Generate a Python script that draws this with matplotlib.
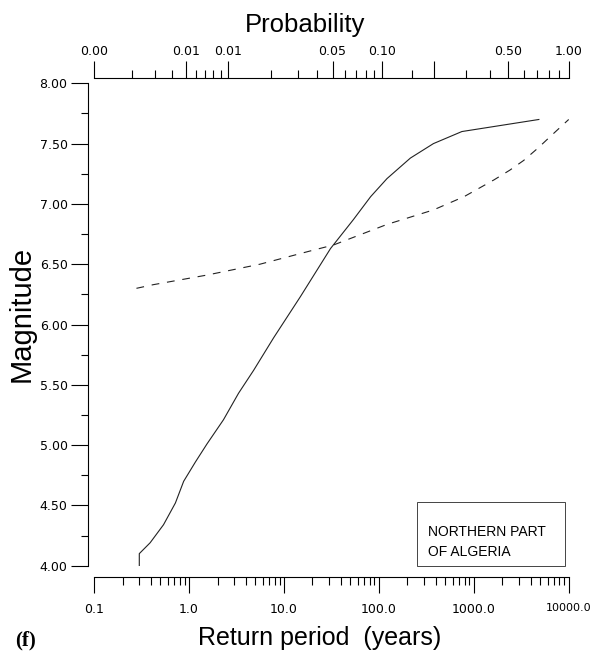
import matplotlib
matplotlib.use("Agg")
import matplotlib.pyplot as plt
from matplotlib.ticker import FixedLocator, FixedFormatter, LogLocator, NullFormatter
from matplotlib.patches import Rectangle

# --- data ---
# solid curve: magnitude vs return period (years)
solid_period = [0.3, 0.3, 0.39, 0.54, 0.72, 0.88, 1.17, 1.55, 2.31, 3.33, 4.8,
                7.8, 14.9, 31, 54, 82, 122, 215, 376, 750, 4850]
solid_mag = [4.00, 4.10, 4.19, 4.34, 4.52, 4.70, 4.86, 5.01, 5.21, 5.43, 5.62,
             5.89, 6.23, 6.63, 6.87, 7.06, 7.21, 7.38, 7.50, 7.60, 7.70]

# dashed curve
dashed_period = [0.28, 0.42, 1.55, 5.6, 19, 33.5, 122, 376, 790, 1640, 2400, 3350,
                 4700, 6630, 10000]
dashed_mag = [6.30, 6.33, 6.41, 6.50, 6.61, 6.66, 6.83, 6.95, 7.06, 7.20, 7.28, 7.36,
              7.46, 7.57, 7.70]

# bottom axis
period_ticks = [0.1, 1, 10, 100, 1000, 10000]
period_labels = ["0.1", "1.0", "10.0", "100.0", "1000.0", "10000.0"]

# top probability axis (tick positions expressed as return periods)
prob_major = [0.1, 0.927, 2.57, 32.6, 108, 377, 2275, 10000]
prob_labels = ["0.00", "0.01", "0.01", "0.05", "0.10", "", "0.50", "1.00"]
prob_minor = [0.252, 0.443, 0.670, 1.20, 1.48, 1.81, 2.17, 7.24, 14.1, 22.5,
              44.2, 57.7, 72.8, 89.9, 222, 834, 1469, 3379, 4677, 6266, 7980]

mag_ticks = [4.0, 4.5, 5.0, 5.5, 6.0, 6.5, 7.0, 7.5, 8.0]
mag_minor = [4.25, 4.75, 5.25, 5.75, 6.25, 6.75, 7.25, 7.75]

W, H = 593, 652
fig = plt.figure(figsize=(W / 100, H / 100), dpi=100)
ax = fig.add_axes([94 / W, 1 - 565.7 / H, 474.7 / W, 482.4 / H])

tick_font = {"family": "DejaVu Sans", "size": 9}

ax.plot(solid_period, solid_mag, color="#222222", lw=0.8)
ax.plot(dashed_period, dashed_mag, color="#222222", lw=0.8, linestyle=(0, (7, 7)))

ax.set_xscale("log")
ax.set_xlim(0.1, 10000)
ax.set_ylim(4.0, 8.0)

for s in ("top", "right"):
    ax.spines[s].set_visible(False)
ax.spines["left"].set_position(("outward", 4))
ax.spines["bottom"].set_position(("outward", 8))
for s in ("left", "bottom"):
    ax.spines[s].set_linewidth(0.8)

ax.set_xticks(period_ticks)
ax.set_xticklabels(period_labels, fontdict=tick_font)
ax.get_xticklabels()[-1].set_fontsize(8)  # last label sits at the right edge
ax.xaxis.set_minor_locator(LogLocator(base=10, subs=range(2, 10)))
ax.xaxis.set_minor_formatter(NullFormatter())
ax.tick_params(axis="x", which="major", length=11.5, width=0.8, pad=7, direction="out")
ax.tick_params(axis="x", which="minor", length=5.5, width=0.8, direction="out")

ax.set_yticks(mag_ticks)
ax.set_yticklabels([f"{v:.2f}" for v in mag_ticks], fontdict=tick_font)
ax.yaxis.set_minor_locator(FixedLocator(mag_minor))
ax.tick_params(axis="y", which="major", length=12, width=0.8, pad=3, direction="out")
ax.tick_params(axis="y", which="minor", length=5, width=0.8, direction="out")

# top probability axis
ax2 = ax.twiny()
ax2.set_xscale("log")
ax2.set_xlim(ax.get_xlim())
for s in ("bottom", "left", "right"):
    ax2.spines[s].set_visible(False)
ax2.spines["top"].set_position(("outward", 4))
ax2.spines["top"].set_linewidth(0.8)
ax2.xaxis.set_major_locator(FixedLocator(prob_major))
ax2.xaxis.set_major_formatter(FixedFormatter(prob_labels))
ax2.xaxis.set_minor_locator(FixedLocator(prob_minor))
ax2.xaxis.set_minor_formatter(NullFormatter())
for lab in ax2.get_xticklabels():
    lab.set_fontfamily("DejaVu Sans")
    lab.set_fontsize(9)
ax2.tick_params(axis="x", which="major", length=12, width=0.8, pad=2.5, labelsize=9)
ax2.tick_params(axis="x", which="minor", length=5.5, width=0.8)

# region box
ax.add_patch(Rectangle((0.680, 0.0), 0.312, 0.132, transform=ax.transAxes,
                       fill=False, edgecolor="#444444", lw=0.7, clip_on=False))
ax.text(0.704, 0.0616, "NORTHERN PART", transform=ax.transAxes, va="baseline",
        family="Liberation Sans", fontsize=10)
ax.text(0.704, 0.020, "OF ALGERIA", transform=ax.transAxes, va="baseline",
        family="Liberation Sans", fontsize=10)

# axis titles
fig.text(305 / W, 1 - 32 / H, "Probability", ha="center", va="baseline",
         family="Liberation Sans", fontsize=18.5)
fig.text(320 / W, 1 - 645 / H, "Return period  (years)", ha="center", va="baseline",
         family="Liberation Sans", fontsize=18)
fig.text(30 / W, 1 - 314 / H, "Magnitude", ha="center", va="baseline", rotation=90,
         rotation_mode="anchor", family="Liberation Sans", fontsize=21)
fig.text(15 / W, 1 - 645 / H, "(f)", ha="left", va="baseline",
         family="Liberation Serif", fontweight="bold", fontsize=15)

fig.savefig("out.png", dpi=100)
